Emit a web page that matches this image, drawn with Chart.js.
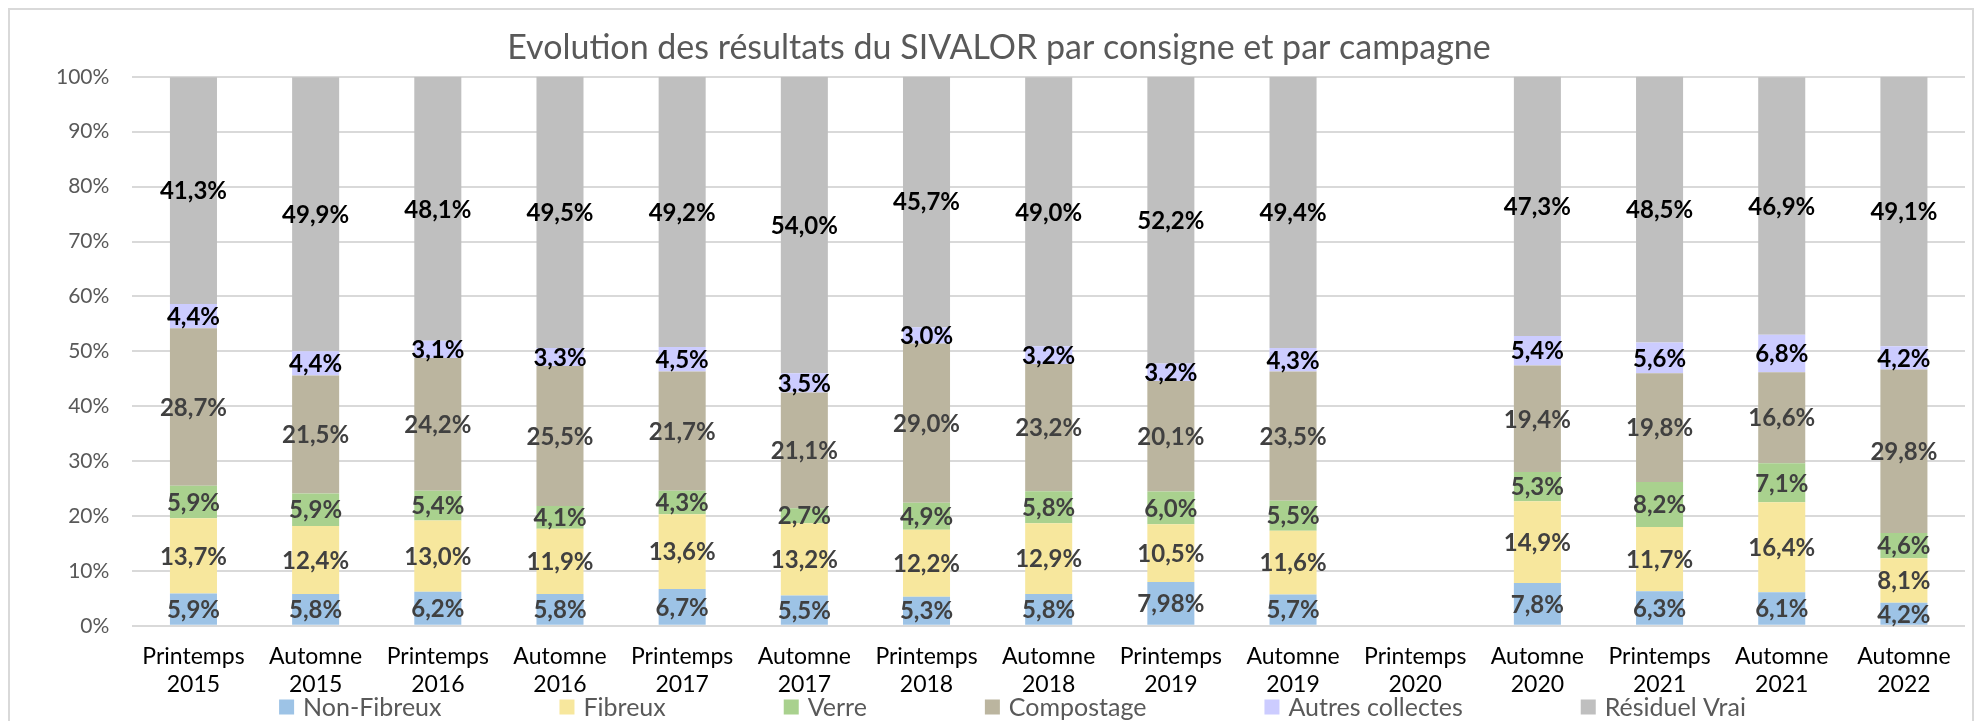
<!DOCTYPE html>
<html>
<head>
<meta charset="utf-8">
<script src="https://cdn.jsdelivr.net/npm/chart.js@4"></script>
<style>
    body { margin: 0; background: #fff; }
    #frame {
        position: absolute; left: 8px; top: 8px; width: 1966px; height: 740px;
        border: 2px solid #d9d9d9; box-sizing: border-box;
    }
    #chart { position: absolute; left: 0; top: 0; }
</style>
</head>
<body>
<div id="frame"></div>
<canvas id="chart" width="1981" height="721"></canvas>
<script>
const campagnes = [
    ['Printemps', '2015'], ['Automne', '2015'], ['Printemps', '2016'], ['Automne', '2016'],
    ['Printemps', '2017'], ['Automne', '2017'], ['Printemps', '2018'], ['Automne', '2018'],
    ['Printemps', '2019'], ['Automne', '2019'], ['Printemps', '2020'], ['Automne', '2020'],
    ['Printemps', '2021'], ['Automne', '2021'], ['Automne', '2022']
];

const nonFibreux  = [5.9, 5.8, 6.2, 5.8, 6.7, 5.5, 5.3, 5.8, 7.98, 5.7, null, 7.8, 6.3, 6.1, 4.2];
const fibreux     = [13.7, 12.4, 13.0, 11.9, 13.6, 13.2, 12.2, 12.9, 10.5, 11.6, null, 14.9, 11.7, 16.4, 8.1];
const verre       = [5.9, 5.9, 5.4, 4.1, 4.3, 2.7, 4.9, 5.8, 6.0, 5.5, null, 5.3, 8.2, 7.1, 4.6];
const compostage  = [28.7, 21.5, 24.2, 25.5, 21.7, 21.1, 29.0, 23.2, 20.1, 23.5, null, 19.4, 19.8, 16.6, 29.8];
const autres      = [4.4, 4.4, 3.1, 3.3, 4.5, 3.5, 3.0, 3.2, 3.2, 4.3, null, 5.4, 5.6, 6.8, 4.2];
const residuel    = [41.3, 49.9, 48.1, 49.5, 49.2, 54.0, 45.7, 49.0, 52.2, 49.4, null, 47.3, 48.5, 46.9, 49.1];

const yTicks = [0, 10, 20, 30, 40, 50, 60, 70, 80, 90, 100];

const FONT = 'Lato, "Open Sans", sans-serif';

// format "5,9%" / "7,98%"
function fmt(v) {
    const twoDec = Math.abs(Math.round(v * 10) - v * 10) > 1e-6;
    return v.toFixed(twoDec ? 2 : 1).replace('.', ',') + '%';
}

// étiquettes au centre de chaque segment
const segmentLabels = {
    id: 'segmentLabels',
    afterDatasetsDraw(chart) {
        const ctx = chart.ctx;
        ctx.save();
        ctx.textAlign = 'center';
        ctx.textBaseline = 'middle';
        ctx.font = 'bold 24px ' + FONT;
        chart.data.datasets.forEach((ds, i) => {
            const meta = chart.getDatasetMeta(i);
            meta.data.forEach((bar, j) => {
                const v = ds.data[j];
                if (v === null || v === undefined) return;
                ctx.fillStyle = ds.labelColor;
                ctx.fillText(fmt(v), bar.x, (bar.y + bar.base) / 2 + 1);
            });
        });
        ctx.restore();
    }
};

// légende en bas, espacement large comme dans Excel
const bottomLegend = {
    id: 'bottomLegend',
    afterDraw(chart) {
        const ctx = chart.ctx;
        const box = 15, gapText = 9, gapItem = 118;
        ctx.save();
        ctx.font = '25px ' + FONT;
        ctx.textBaseline = 'middle';
        const items = chart.data.datasets.map(ds => ({
            ds: ds,
            w: box + gapText + ctx.measureText(ds.label).width
        }));
        const total = items.reduce((s, it) => s + it.w, 0) + gapItem * (items.length - 1);
        let x = chart.width / 2 + 22 - total / 2;
        const y = chart.height - 14;
        items.forEach(it => {
            ctx.fillStyle = it.ds.backgroundColor;
            ctx.fillRect(x, y - box / 2, box, box);
            ctx.fillStyle = '#595959';
            ctx.fillText(it.ds.label, x + box + gapText, y + 1);
            x += it.w + gapItem;
        });
        ctx.restore();
    }
};

function ds(label, data, color, labelColor) {
    return {
        label: label,
        data: data,
        backgroundColor: color,
        borderWidth: 0,
        labelColor: labelColor,
        categoryPercentage: 1.0,
        barPercentage: 0.385
    };
}

new Chart(document.getElementById('chart'), {
    type: 'bar',
    data: {
        labels: campagnes,
        datasets: [
            ds('Non-Fibreux', nonFibreux, '#9dc3e6', '#404040'),
            ds('Fibreux', fibreux, '#f7e79d', '#404040'),
            ds('Verre', verre, '#a9d18e', '#404040'),
            ds('Compostage', compostage, '#bbb59f', '#404040'),
            ds('Autres collectes', autres, '#ccccff', '#000000'),
            ds('Résiduel Vrai', residuel, '#bfbfbf', '#000000')
        ]
    },
    options: {
        responsive: false,
        animation: false,
        layout: { padding: { left: 33, right: 16, top: 28, bottom: 6 } },
        plugins: {
            title: {
                display: true,
                text: 'Evolution des résultats du SIVALOR par consigne et par campagne',
                color: '#595959',
                font: { family: FONT, size: 34, weight: 'normal' },
                padding: { top: 0, bottom: 8 }
            },
            legend: { display: false },
            tooltip: { enabled: false }
        },
        scales: {
            x: {
                stacked: true,
                grid: { display: false, drawTicks: false },
                border: { display: false },
                ticks: {
                    color: '#000000',
                    font: { family: FONT, size: 23, lineHeight: 1.2 },
                    padding: 17,
                    maxRotation: 0,
                    autoSkip: false
                }
            },
            y: {
                stacked: true,
                min: 0,
                max: 100,
                afterBuildTicks: (axis) => { axis.ticks = yTicks.map(v => ({ value: v })); },
                grid: { color: '#d9d9d9', lineWidth: 2, drawTicks: false },
                border: { display: false },
                ticks: {
                    color: '#595959',
                    font: { family: FONT, size: 21 },
                    padding: 23,
                    callback: v => v + '%'
                }
            }
        }
    },
    plugins: [segmentLabels, bottomLegend]
});
</script>
</body>
</html>
